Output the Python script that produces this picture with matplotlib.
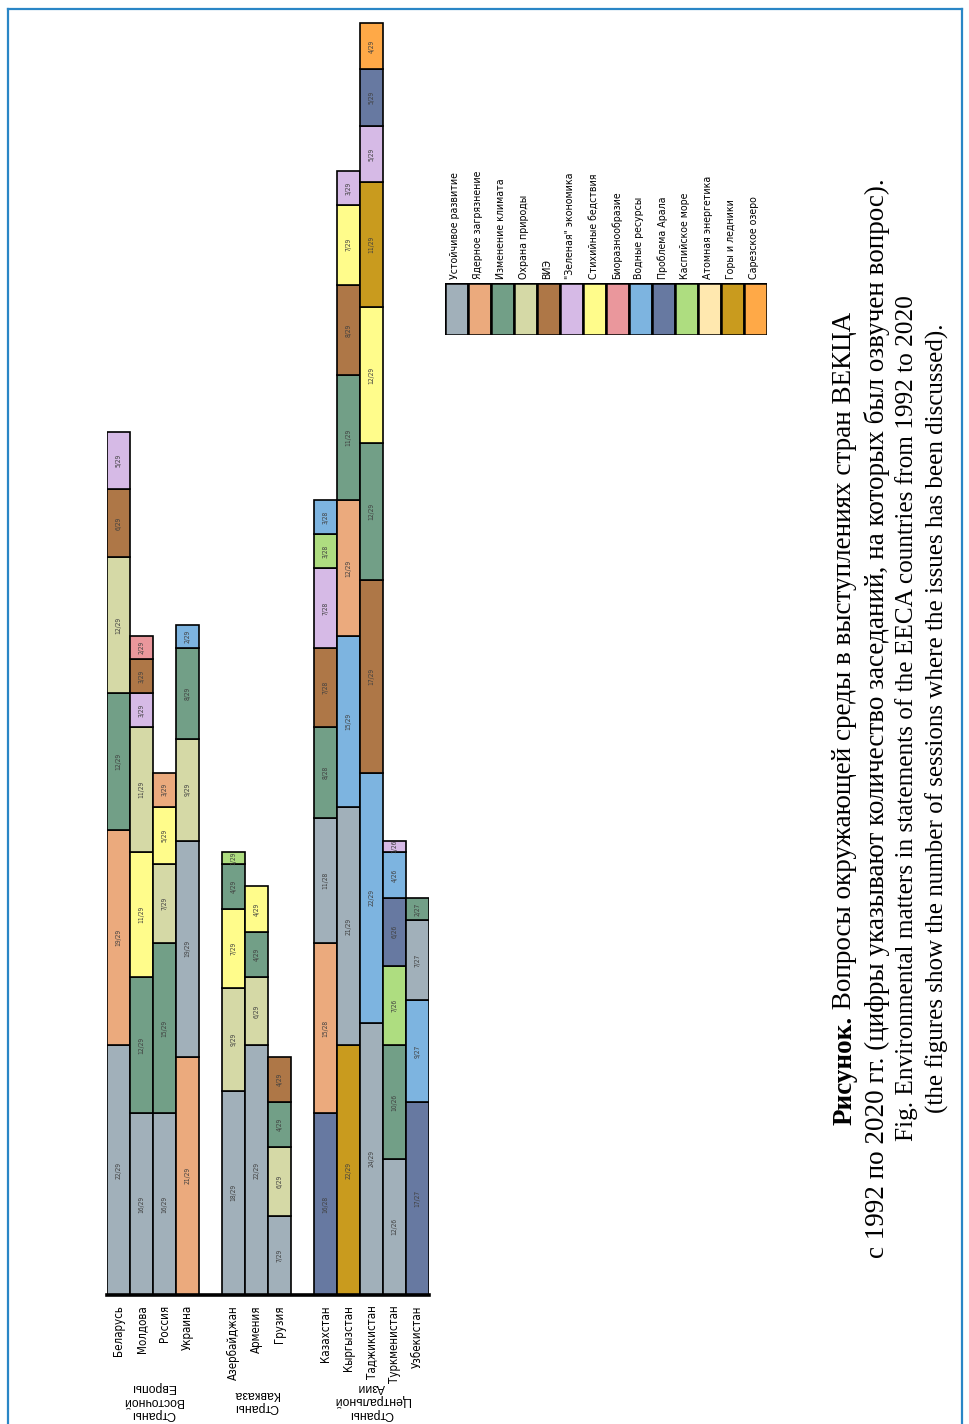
import matplotlib
matplotlib.use("Agg")
import matplotlib.pyplot as plt
from matplotlib.lines import Line2D

# ---- data -------------------------------------------------------------
topics = [
    "Устойчивое развитие", "Ядерное загрязнение", "Изменение климата",
    "Охрана природы", "ВИЭ", "\"Зеленая\" экономика", "Стихийные бедствия",
    "Биоразнообразие", "Водные ресурсы", "Проблема Арала", "Каспийское море",
    "Атомная энергетика", "Горы и ледники", "Сарезское озеро",
]
topic_colors = [
    "#A1B0BA", "#EBAA7D", "#729F87", "#D5D9A6", "#AE7747", "#D6BAE6",
    "#FFFC8B", "#EA979C", "#7DB4E0", "#6779A1", "#AEDD80", "#FFE8AF",
    "#C99B1E", "#FFA947",
]

groups = ["Страны\nВосточной\nЕвропы", "Страны\nКавказа", "Страны\nЦентральной\nАзии"]
group_sizes = [4, 3, 5]
countries = [
    "Беларусь", "Молдова", "Россия", "Украина",
    "Азербайджан", "Армения", "Грузия",
    "Казахстан", "Кыргызстан", "Таджикистан", "Туркменистан", "Узбекистан",
]
sessions = [29, 29, 29, 29, 29, 29, 29, 28, 29, 29, 26, 27]

# topic index of each stacked piece (bottom -> top) and its count
stack_topics = [
    [0, 1, 2, 3, 4, 5],
    [0, 2, 6, 3, 5, 4, 7],
    [0, 2, 3, 6, 1],
    [1, 0, 3, 2, 8],
    [0, 3, 6, 2, 10],
    [0, 3, 2, 6],
    [0, 3, 2, 4],
    [9, 1, 0, 2, 4, 5, 10, 8],
    [12, 0, 8, 1, 2, 4, 6, 5],
    [0, 8, 4, 2, 6, 12, 5, 9, 13],
    [0, 2, 10, 9, 8, 5],
    [9, 8, 0, 2],
]
stack_counts = [
    [22, 19, 12, 12, 6, 5],
    [16, 12, 11, 11, 3, 3, 2],
    [16, 15, 7, 5, 3],
    [21, 19, 9, 8, 2],
    [18, 9, 7, 4, 1],
    [22, 6, 4, 4],
    [7, 6, 4, 4],
    [16, 15, 11, 8, 7, 7, 3, 3],
    [22, 21, 15, 12, 11, 8, 7, 3],
    [24, 22, 17, 12, 12, 11, 5, 5, 4],
    [12, 10, 7, 6, 4, 1],
    [17, 9, 7, 2],
]

caption_bold = "Рисунок."
caption_rest = " Вопросы окружающей среды в выступлениях стран ВЕКЦА"
caption_lines = [
    "с 1992 по 2020 гг. (цифры указывают количество заседаний, на которых был озвучен вопрос).",
    "Fig. Environmental matters in statements of the EECA countries from 1992 to 2020",
    "(the figures show the number of sessions where the issues has been discussed).",
]

# ---- layout helpers (pixel -> figure fraction) ------------------------
W, H = 970, 1424
def fx(x):
    return x / W

def fy(y):
    return 1 - y / H

narrow = dict(family="DejaVu Sans", fontstretch="condensed")
serif = ["Liberation Serif", "DejaVu Serif"]

fig = plt.figure(figsize=(W / 100, H / 100), dpi=100)
fig.patch.set_facecolor("white")

# page frame
frame_col = "#2A86C6"
fig.add_artist(Line2D([fx(8), fx(8)], [fy(9), 0], transform=fig.transFigure, color=frame_col, lw=1.6))
fig.add_artist(Line2D([fx(8), fx(962)], [fy(9), fy(9)], transform=fig.transFigure, color=frame_col, lw=1.6))
fig.add_artist(Line2D([fx(962), fx(962)], [fy(9), 0], transform=fig.transFigure, color=frame_col, lw=1.6))

# ---- stacked bars ----------------------------------------------------
ax = fig.add_axes([fx(107), fy(1295), (429 - 107) / W, (1295 - 20) / H])

positions = []
slot = 0
for n in group_sizes:
    positions.extend(range(slot, slot + n))
    slot += n + 1

for pos, tops, counts, total in zip(positions, stack_topics, stack_counts, sessions):
    bottom = 0
    for t, c in zip(tops, counts):
        ax.bar(pos, c, bottom=bottom, width=1.0, color=topic_colors[t],
               edgecolor="black", linewidth=1.2)
        ax.text(pos, bottom + c / 2, f"{c}/{total}", rotation=90, ha="center",
                va="center", fontsize=4.8, color="#404040", **narrow)
        bottom += c

ax.set_xlim(-0.5, slot - 1.5)
ax.set_ylim(0, 112.3)
ax.set_xticks([])
ax.set_yticks([])
for s in ["top", "left", "right"]:
    ax.spines[s].set_visible(False)
ax.spines["bottom"].set_linewidth(2.6)
ax.spines["bottom"].set_color("black")

# country labels
for pos, name in zip(positions, countries):
    ax.text(pos, -0.9, name, rotation=90, ha="center", va="top",
            fontsize=8.3, **narrow)

# group labels (upside down in the original)
start = 0
for g, n in zip(groups, group_sizes):
    centre = start + (n - 1) / 2
    ax.text(centre, -9.3, g, rotation=180, ha="center", va="center",
            fontsize=8.8, linespacing=1.15, family=["Liberation Sans", "DejaVu Sans"])
    start += n + 1

# ---- legend ------------------------------------------------------------
lax = fig.add_axes([fx(445), fy(335), (767 - 445) / W, (335 - 283) / H])
for i, (name, col) in enumerate(zip(topics, topic_colors)):
    lax.bar(i, 1, width=1.0, color=col, edgecolor="black", linewidth=1.8, align="edge")
    lax.text(i + 0.45, 1.08, name, rotation=90, ha="center", va="bottom",
             fontsize=7.6, **narrow)
lax.set_xlim(0, len(topics))
lax.set_ylim(0, 1)
lax.axis("off")

# ---- caption (rotated) -------------------------------------------------
fig.canvas.draw()
renderer = fig.canvas.get_renderer()
cap_y = 718

t_bold = fig.text(fx(845), 0, caption_bold, rotation=90, ha="center", va="bottom",
                  fontsize=19.5, fontweight="bold", family=serif)
t_rest = fig.text(fx(845), 0, caption_rest, rotation=90, ha="center", va="bottom",
                  fontsize=19.5, family=serif)
len_bold = t_bold.get_window_extent(renderer).height
len_rest = t_rest.get_window_extent(renderer).height
start_px = cap_y + (len_bold + len_rest) / 2
t_bold.set_y(fy(start_px))
t_rest.set_y(fy(start_px - len_bold))

for x, line, size in zip([877, 907, 937], caption_lines, [19.5, 18.2, 18]):
    fig.text(fx(x), fy(cap_y), line, rotation=90, ha="center", va="center",
             fontsize=size, family=serif)

fig.savefig("out.png", dpi=100)
